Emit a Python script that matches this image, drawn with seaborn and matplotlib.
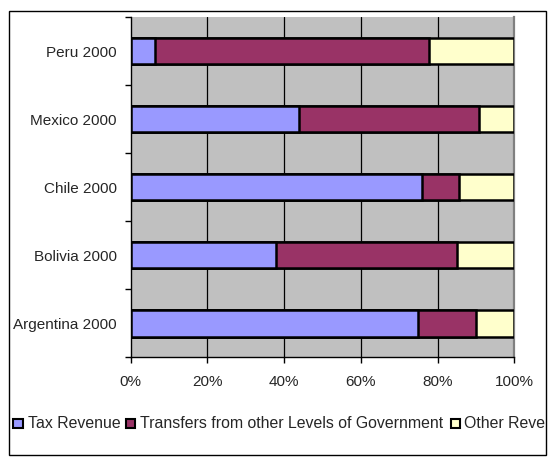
import numpy as np
import pandas as pd
import matplotlib
matplotlib.use("Agg")
import matplotlib.pyplot as plt
from matplotlib.patches import Rectangle
from matplotlib.ticker import FixedLocator, FuncFormatter
import seaborn as sns

# Revenue composition of subnational governments (share of total, %)
categories = ["Peru 2000", "Mexico 2000", "Chile 2000", "Bolivia 2000", "Argentina 2000"]
tax_revenue = [6.4, 43.9, 76.0, 38.0, 74.9]
transfers = [71.4, 46.9, 9.5, 47.1, 15.1]
other_revenue = [22.2, 9.2, 14.5, 14.9, 10.0]
series_names = ["Tax Revenue", "Transfers from other Levels of Government", "Other Revenue"]
series_colors = ["#9999FF", "#993366", "#FFFFCC"]
x_ticks = [0, 20, 40, 60, 80, 100]

sns.set_style("white")
plt.rcParams["font.family"] = ["Liberation Sans", "DejaVu Sans"]
plt.rcParams["font.size"] = 11

W, H, DPI = 557, 457, 100
fig = plt.figure(figsize=(W / DPI, H / DPI), dpi=DPI)
fig.patch.set_facecolor("white")

# plot area in pixel coordinates
left_px, right_px, top_px, bottom_px = 130.7, 514.3, 17.0, 357.3
ax = fig.add_axes([left_px / W, 1 - bottom_px / H,
                   (right_px - left_px) / W, (bottom_px - top_px) / H])
ax.set_facecolor("#C0C0C0")

df = pd.DataFrame({"category": categories, "tax": tax_revenue,
                   "transfers": transfers, "other": other_revenue})
df["cum1"] = df["tax"]
df["cum2"] = df["tax"] + df["transfers"]
df["cum3"] = df["cum2"] + df["other"]

# stacked bars drawn as cumulative layers, widest first
for col, color in zip(["cum3", "cum2", "cum1"], series_colors[::-1]):
    sns.barplot(data=df, x=col, y="category", order=categories, orient="h",
                color=color, saturation=1, width=0.39, edgecolor="black",
                linewidth=1.8, errorbar=None, ax=ax, zorder=3)

ax.set_xlim(0, 100)
ax.set_ylim(len(categories) - 0.5, -0.5)
ax.set_xlabel("")
ax.set_ylabel("")

# vertical gridlines
ax.set_axisbelow(True)
for v in x_ticks[1:-1]:
    ax.axvline(v, color="black", lw=0.9, zorder=1)

ax.xaxis.set_major_locator(FixedLocator(x_ticks))
ax.xaxis.set_major_formatter(FuncFormatter(lambda v, p: f"{int(v)}%"))
ax.tick_params(axis="x", direction="out", length=4, width=1, color="black",
               pad=9, labelsize=11, bottom=True)

ax.yaxis.set_minor_locator(FixedLocator(np.arange(-0.5, len(categories), 1.0)))
ax.tick_params(axis="y", which="major", length=0, pad=10, labelsize=11)
ax.tick_params(axis="y", which="minor", direction="out", length=4.5, width=1,
               color="black", left=True)

for side in ["left", "bottom"]:
    ax.spines[side].set_color("black")
    ax.spines[side].set_linewidth(1)
ax.spines["top"].set_visible(False)
ax.spines["right"].set_color("#808080")
ax.spines["right"].set_linewidth(1.6)

# outer chart frame
fx0, fy0, fx1, fy1 = 9.0, 10.5, 545.5, 455.0
frame = Rectangle((fx0 / W, 1 - fy1 / H), (fx1 - fx0) / W, (fy1 - fy0) / H,
                  transform=fig.transFigure, fill=False, edgecolor="black",
                  lw=1.0, zorder=5)
fig.add_artist(frame)

# legend row
legend_y = 1 - 423.5 / H
marker_x = [13.5, 126.0, 450.7]
text_x = [28.0, 140.0, 463.5]
box = 9.0
clip = Rectangle((fx0 / W, 1 - fy1 / H), (fx1 + 1 - fx0) / W, (fy1 - fy0) / H,
                 transform=fig.transFigure, visible=False)
fig.add_artist(clip)
for name, color, mx, tx in zip(series_names, series_colors, marker_x, text_x):
    fig.add_artist(Rectangle((mx / W, legend_y - (box / 2) / H), box / W, box / H,
                             transform=fig.transFigure, facecolor=color,
                             edgecolor="black", lw=1.5))
    t = fig.text(tx / W, legend_y, name, fontsize=11.4, va="center", ha="left")
    t.set_clip_path(clip)

fig.savefig("out.png", dpi=DPI, facecolor="white")
